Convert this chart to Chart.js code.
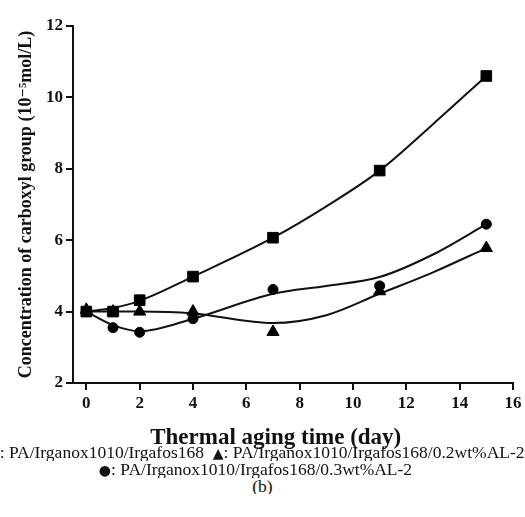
<!DOCTYPE html>
<html>
<head>
<meta charset="utf-8">
<script src="https://cdn.jsdelivr.net/npm/chart.js@4.4.0/dist/chart.umd.min.js"></script>
<style>
  html, body { margin: 0; padding: 0; background: #fff; }
  #wrap { width: 525px; height: 517px; overflow: hidden; }
  #box { width: 525px; height: 452px; }
  .notes { margin-top: -8px; }
  .note {
    font-family: "Liberation Serif", serif; font-size: 17.5px; color: #111;
    text-align: center; white-space: nowrap; line-height: 16px;
    width: 525px; overflow: hidden; display: flex; justify-content: center;
  }
  .note .shift { position: relative; left: -7px; }
  .sym { font-family: "DejaVu Sans", sans-serif; font-size: 14px; }
</style>
</head>
<body>
<div id="wrap">
  <div id="box"><canvas id="myChart1" width="525" height="452"></canvas></div>
  <div class="notes">
    <div class="note"><span class="shift"><span class="sym">■</span>: PA/Irganox1010/Irgafos168 &nbsp;<span class="sym">▲</span>: PA/Irganox1010/Irgafos168/0.2wt%AL-2</span></div>
    <div class="note"><span class="shift"><span class="sym">●</span>: PA/Irganox1010/Irgafos168/0.3wt%AL-2</span></div>
    <div class="note"><span>(b)</span></div>
  </div>
</div>
<script>
        // measured points
        const days = [0, 1, 2, 4, 7, 11, 15]
        const squareVals = [4.0, 4.0, 4.32, 4.98, 6.07, 7.95, 10.6]
        const triangleVals = [4.05, 4.0, 4.0, 4.0, 3.43, 4.57, 5.78]
        const circleVals = [4.0, 3.55, 3.42, 3.8, 4.62, 4.72, 6.45]
        // fitted curves
        const fitDays = [0, 1, 2, 4, 7, 9, 11, 13, 15]
        const squareFit = [4.0, 4.1, 4.3, 4.98, 6.07, 6.95, 7.95, 9.25, 10.6]
        const triangleFit = [4.0, 4.0, 4.0, 3.95, 3.68, 3.9, 4.5, 5.1, 5.78]
        const circleFit = [4.0, 3.62, 3.45, 3.8, 4.5, 4.72, 4.97, 5.6, 6.45]
        const xTicks = [0, 2, 4, 6, 8, 10, 12, 14, 16]
        const yTicks = [2, 4, 6, 8, 10, 12]

        const serif = "'Liberation Serif', 'DejaVu Serif', serif"
        const pts = (xs, ys) => xs.map((x, i) => ({ x: x, y: ys[i] }))

        const fitLine = (ys) => ({
            data: pts(fitDays, ys),
            showLine: true,
            borderColor: '#111',
            borderWidth: 2,
            pointRadius: 0,
            cubicInterpolationMode: 'monotone',
            order: 2
        })
        const markers = (ys, style, r) => ({
            data: pts(days, ys),
            showLine: false,
            pointStyle: style,
            pointRadius: r,
            pointBackgroundColor: '#000',
            pointBorderColor: '#000',
            pointBorderWidth: 1,
            order: 1
        })

        const data1 = {
            datasets: [
                fitLine(squareFit),
                fitLine(triangleFit),
                fitLine(circleFit),
                markers(squareVals, 'rect', 7.5),
                markers(triangleVals, 'triangle', 7),
                markers(circleVals, 'circle', 5)
            ]
        };
        const config1 = {
            type: 'scatter',
            data: data1,
            options: {
                animation: false,
                responsive: false,
                layout: {
                    padding: { top: 26, right: 12, left: 16, bottom: 0 }
                },
                scales: {
                    x: {
                        type: 'linear',
                        min: -0.5,
                        max: 16,
                        afterBuildTicks: (s) => { s.ticks = xTicks.map(v => ({ value: v })) },
                        afterFit: (s) => { s.height = 69 },
                        grid: { drawOnChartArea: false, drawTicks: true, tickLength: 7, color: '#111', lineWidth: 2 },
                        border: { display: true, color: '#111', width: 2 },
                        ticks: {
                            color: '#111',
                            padding: 3,
                            maxRotation: 0,
                            font: { family: serif, size: 17, weight: 'bold' }
                        },
                        title: {
                            display: true,
                            // trailing spaces nudge the centred title left like the original
                            text: 'Thermal aging time (day)\u00a0\u00a0\u00a0\u00a0\u00a0\u00a0',
                            color: '#111',
                            font: { family: serif, size: 23, weight: 'bold' },
                            padding: { top: 0, bottom: 0 }
                        }
                    },
                    y: {
                        min: 2,
                        max: 12,
                        afterBuildTicks: (s) => { s.ticks = yTicks.map(v => ({ value: v })) },
                        afterFit: (s) => { s.width = 57 },
                        grid: { drawOnChartArea: false, drawTicks: true, tickLength: 7, color: '#111', lineWidth: 2 },
                        border: { display: true, color: '#111', width: 2 },
                        ticks: {
                            color: '#111',
                            padding: 3,
                            font: { family: serif, size: 17, weight: 'bold' }
                        },
                        title: {
                            display: true,
                            text: 'Concentration of carboxyl group (10⁻⁵mol/L)',
                            color: '#111',
                            font: { family: serif, size: 18, weight: 'bold' },
                            padding: { top: 0, bottom: 0 }
                        }
                    }
                },
                plugins: {
                    legend: { display: false },
                    tooltip: { enabled: false }
                }
            }
        };
        var myChart = new Chart(
            document.getElementById('myChart1'),
            config1
        );
</script>
</body>
</html>
